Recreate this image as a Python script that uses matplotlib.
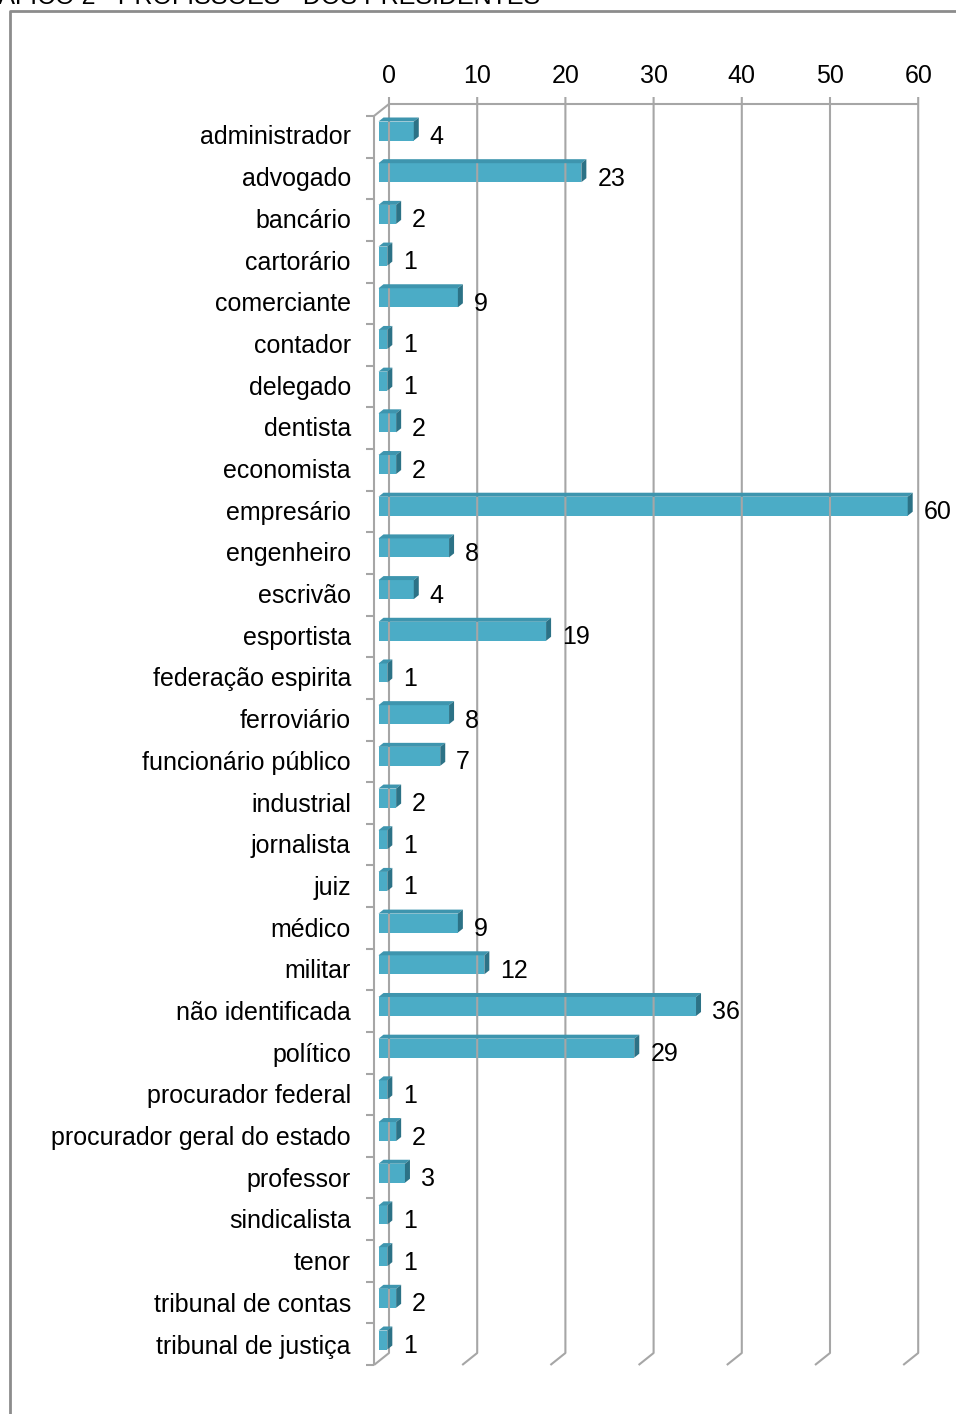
import matplotlib
matplotlib.use("Agg")
import matplotlib.pyplot as plt
from matplotlib.transforms import IdentityTransform
from matplotlib.lines import Line2D
from matplotlib.patches import Polygon

plt.rcParams['font.family'] = ['Liberation Sans', 'DejaVu Sans']

categories = ["administrador", "advogado", "bancário", "cartorário", "comerciante",
              "contador", "delegado", "dentista", "economista", "empresário",
              "engenheiro", "escrivão", "esportista", "federação espirita", "ferroviário",
              "funcionário público", "industrial", "jornalista", "juiz", "médico",
              "militar", "não identificada", "político", "procurador federal",
              "procurador geral do estado", "professor", "sindicalista", "tenor",
              "tribunal de contas", "tribunal de justiça"]
values = [4, 23, 2, 1, 9, 1, 1, 2, 2, 60, 8, 4, 19, 1, 8, 7, 2, 1, 1, 9, 12, 36,
          29, 1, 2, 3, 1, 1, 2, 1]
xticks = [0, 10, 20, 30, 40, 50, 60]
title = "GRÁFICO 2 - PROFISSÕES - DOS PRESIDENTES"

W, H = 956, 1414
fig = plt.figure(figsize=(W / 100, H / 100), dpi=100)

n = len(categories)
x0_px, unit_px = 378.5, 8.82
xmax = 60
top_c = 131.0
step = (1340.0 - top_c) / (n - 1)
y_top_px = top_c - 0.5 * step
y_bot_px = top_c + (n - 0.5) * step
ax = fig.add_axes([x0_px / W, 1 - y_bot_px / H, xmax * unit_px / W, (y_bot_px - y_top_px) / H])
ax.set_xlim(0, xmax)
ax.set_ylim(n - 0.5, -0.5)
ax.axis('off')

fig.canvas.draw()
T = ax.transData
ID = IdentityTransform()

def P(xd, yd, dx=0.0, dy=0.0):
    """data -> display, with offsets in image pixels (dx right, dy down)."""
    px, py = T.transform((xd, yd))
    return (px + dx, py - dy)

grid_c = '#A6A6A6'
lw = 1.5
fs = 18
back_dx = 10.5
back_top = (104 - top_c) / step
back_bot = (1353 - top_c) / step
depth = (-15, 12)

def line(pts, **kw):
    xs, ys = zip(*pts)
    fig.add_artist(Line2D(xs, ys, transform=ID, color=grid_c, lw=lw,
                          solid_capstyle='butt', **kw))

# back wall gridlines, top ticks, floor diagonals
for k in xticks:
    a = P(k, back_top, back_dx, -7)
    b = P(k, back_bot, back_dx)
    c = P(k, back_bot, back_dx + depth[0], depth[1])
    line([a, b, c], zorder=1)
    tx, ty = P(k, back_top, back_dx, -21)
    fig.text(tx, ty, str(k), transform=ID, ha='center', va='baseline', fontsize=fs)
# back top edge
line([P(0, back_top, back_dx), P(xmax, back_top, back_dx)], zorder=1)
# left wall: top diagonal and front vertical
line([P(0, back_top, back_dx), P(0, back_top, back_dx + depth[0], depth[1]),
      P(0, back_bot, back_dx + depth[0], depth[1])], zorder=1)
# category boundary ticks on front left edge
for k in range(n + 1):
    yd = back_top + k * (back_bot - back_top) / n
    line([P(0, yd, back_dx + depth[0] - 8, depth[1]), P(0, yd, back_dx + depth[0], depth[1])], zorder=1)

# bars
front_c, top_col, side_c = '#4BACC6', '#3E95AE', '#2C7286'
bh = 19.0 / step
bd = (5, -4)
for i, (cat, v) in enumerate(zip(categories, values)):
    ax.barh(i, v, height=bh, color=front_c, zorder=3, clip_on=False)
    tl = P(0, i - bh / 2); tr = P(v, i - bh / 2); br = P(v, i + bh / 2)
    top_poly = [tl, tr, (tr[0] + bd[0], tr[1] - bd[1]), (tl[0] + bd[0], tl[1] - bd[1])]
    side_poly = [tr, br, (br[0] + bd[0], br[1] - bd[1]), (tr[0] + bd[0], tr[1] - bd[1])]
    fig.add_artist(Polygon(top_poly, closed=True, transform=ID, facecolor=top_col,
                           edgecolor='none', zorder=4))
    fig.add_artist(Polygon(side_poly, closed=True, transform=ID, facecolor=side_c,
                           edgecolor='none', zorder=4))
    lx, ly = P(0, i, -27.5, 13.5)
    fig.text(lx, ly, cat, transform=ID, ha='right', va='baseline', fontsize=fs)
    vx, vy = P(v, i, 16, 13)
    fig.text(vx, vy, str(v), transform=ID, ha='left', va='baseline', fontsize=fs, zorder=5)

# outer frame
frame_c = '#8C8C8C'
fig.add_artist(Line2D([9.5 / W, 9.5 / W, 1.0], [0.0, 1 - 11 / H, 1 - 11 / H],
                      transform=fig.transFigure, color=frame_c, lw=2.0))
# title, cut off at the top edge as in the source image
fig.text(540 / W, 1 - 4 / H, title, ha='right', va='baseline', fontsize=fs)

fig.savefig('out.png', dpi=100)
